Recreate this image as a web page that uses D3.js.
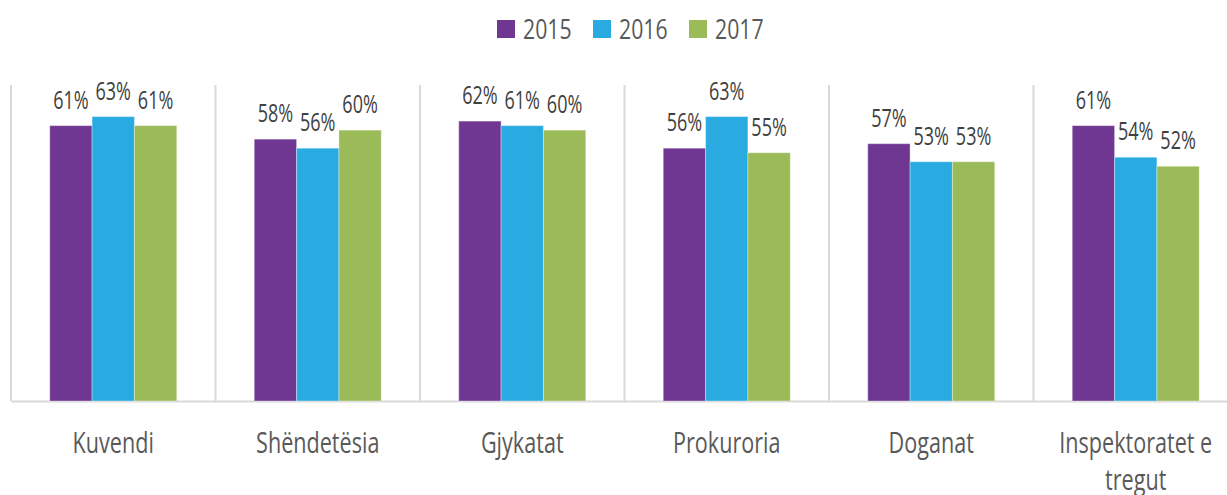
<!DOCTYPE html>
<html>
<head>
<meta charset="utf-8">
<script src="https://cdn.jsdelivr.net/npm/d3@7"></script>
<style>
  html, body { margin: 0; padding: 0; background: #ffffff; }
  svg { display: block; }
  text { font-family: "Open Sans", "Liberation Sans", sans-serif; }
</style>
</head>
<body>
<svg id="chart" width="1227" height="495"></svg>
<script>
const categories = ["Kuvendi", "Shëndetësia", "Gjykatat", "Prokuroria", "Doganat", "Inspektoratet e tregut"];
const seriesNames = ["2015", "2016", "2017"];
const values2015 = [61, 58, 62, 56, 57, 61];
const values2016 = [63, 56, 61, 63, 53, 54];
const values2017 = [61, 60, 60, 55, 53, 52];
const seriesColors = ["#6f3792", "#29abe2", "#9bbb59"];

const seriesValues = [values2015, values2016, values2017];
const data = categories.map((c, i) => ({
  category: c,
  values: seriesNames.map((s, j) => ({ series: s, value: seriesValues[j][i] }))
}));

const svg = d3.select("#chart");
const plotLeft = 11, bandW = 204.5, plotTop = 85, plotBottom = 401;
const condense = 0.72;

const x0 = d3.scaleBand().domain(categories).range([plotLeft, plotLeft + bandW * categories.length]).padding(0);
const groupPad = 38.75;
const x1 = d3.scaleBand().domain(seriesNames).range([groupPad, bandW - groupPad]).padding(0);
const y = d3.scaleLinear().domain([0, 70]).range([plotBottom, plotTop]);
const color = d3.scaleOrdinal().domain(seriesNames).range(seriesColors);

// vertical category separators
svg.append("g").selectAll("line")
  .data(categories)
  .join("line")
  .attr("x1", d => x0(d)).attr("x2", d => x0(d))
  .attr("y1", plotTop).attr("y2", plotBottom)
  .attr("stroke", "#d9d9d9").attr("stroke-width", 2);

// baseline axis
const xAxis = d3.axisBottom(x0).tickSize(0).tickFormat("");
svg.append("g")
  .attr("transform", `translate(0,${plotBottom})`)
  .call(xAxis)
  .call(g => g.select(".domain").attr("stroke", "#d9d9d9").attr("stroke-width", 2));

// bars
const groups = svg.append("g").selectAll("g")
  .data(data)
  .join("g")
  .attr("transform", d => `translate(${x0(d.category)},0)`);

groups.selectAll("rect")
  .data(d => d.values)
  .join("rect")
  .attr("x", d => x1(d.series))
  .attr("y", d => y(d.value))
  .attr("width", x1.bandwidth())
  .attr("height", d => y(0) - y(d.value))
  .attr("fill", d => color(d.series))
  .attr("stroke", "#ffffff").attr("stroke-opacity", 0.35).attr("stroke-width", 1);

// value labels
groups.selectAll("text.val")
  .data(d => d.values)
  .join("text")
  .attr("class", "val")
  .attr("transform", d => `translate(${x1(d.series) + x1.bandwidth() / 2},${y(d.value) - 17}) scale(${condense},1)`)
  .attr("text-anchor", "middle")
  .attr("font-size", 25)
  .attr("fill", "#404040")
  .text(d => d.value + "%");

// category labels (wrapped)
const catLabels = svg.append("g").selectAll("text")
  .data(categories)
  .join("text")
  .attr("transform", d => `translate(${x0(d) + bandW / 2},453) scale(${condense},1)`)
  .attr("text-anchor", "middle")
  .attr("font-size", 30)
  .attr("fill", "#595959");
catLabels.each(function (d) {
  const t = d3.select(this);
  const words = d.split(" ");
  let lines = [d];
  if (d.length > 15) {
    lines = [words.slice(0, words.length - 1).join(" "), words[words.length - 1]];
  }
  lines.forEach((ln, k) => {
    t.append("tspan").attr("x", 0).attr("dy", k === 0 ? 0 : 37).text(ln);
  });
});

// legend
const legend = svg.append("g").selectAll("g")
  .data(seriesNames)
  .join("g")
  .attr("transform", (d, i) => `translate(${497 + i * 96},20)`);
legend.append("rect").attr("width", 18).attr("height", 18).attr("fill", d => color(d));
legend.append("text")
  .attr("transform", `translate(26,19) scale(${condense + 0.04},1)`)
  .attr("font-size", 28)
  .attr("fill", "#595959")
  .text(d => d);
</script>
</body>
</html>
